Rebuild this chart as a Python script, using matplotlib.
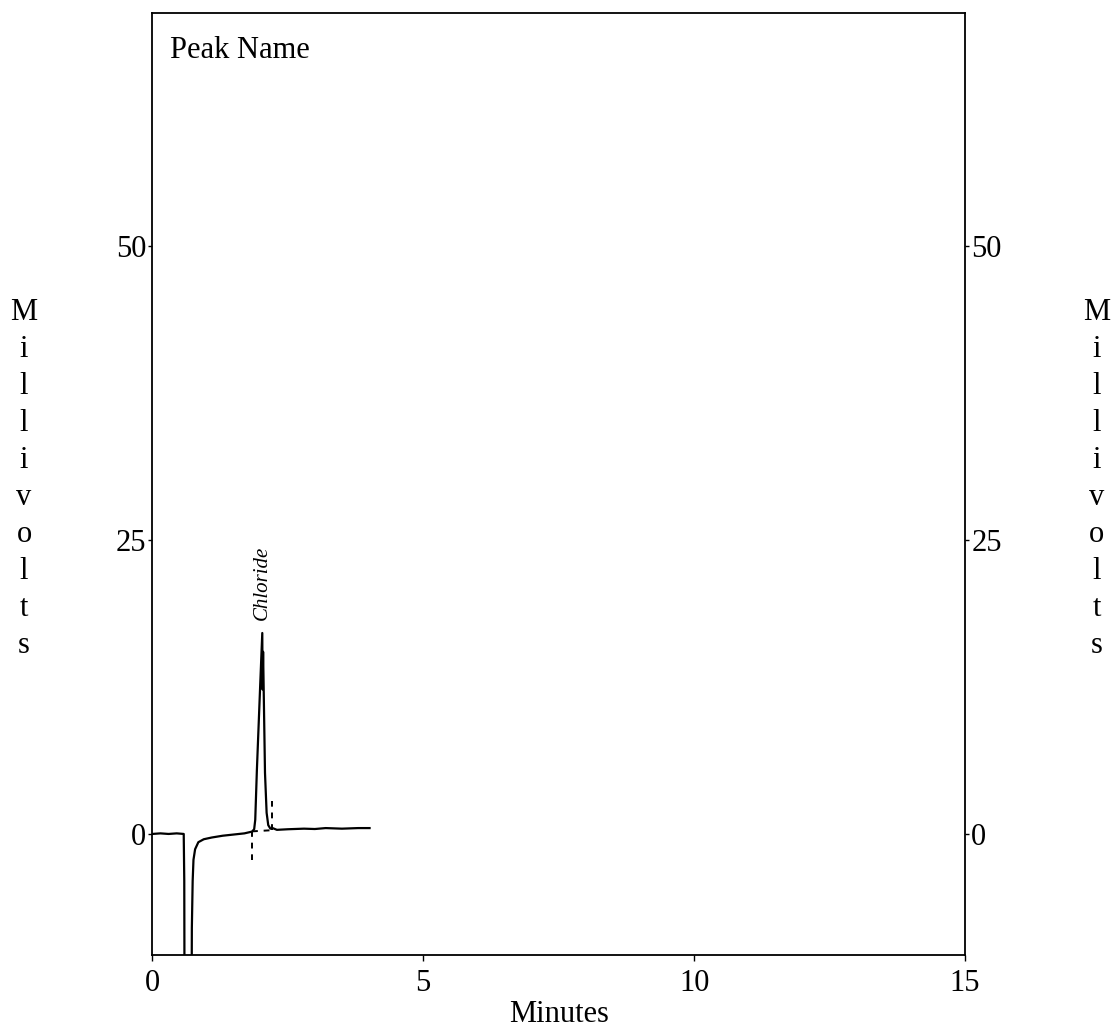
import matplotlib
matplotlib.use("Agg")
import matplotlib.pyplot as plt

plt.rcParams['font.family'] = ['Liberation Serif', 'DejaVu Serif']

# ---- data ----
time_min = [0.0, 0.15, 0.3, 0.45, 0.58, 0.59, 0.595, 0.725, 0.73, 0.745, 0.76,
            0.79, 0.85, 0.95, 1.1, 1.3, 1.5, 1.7, 1.84, 1.88, 1.90, 1.93, 1.99,
            2.03, 2.035, 2.045, 2.08, 2.11, 2.14, 2.18, 2.22, 2.3, 2.5, 2.8,
            3.0, 3.2, 3.5, 3.8, 4.01]
millivolts = [0.0, 0.05, 0.0, 0.05, 0.0, -4.0, -15.0, -15.0, -8.0, -4.0, -2.2,
              -1.3, -0.7, -0.45, -0.3, -0.15, -0.05, 0.05, 0.2, 0.4, 1.2, 5.4, 12.5,
              17.1, 12.3, 15.5, 5.2, 1.8, 0.75, 0.45, 0.5, 0.35, 0.4, 0.45,
              0.42, 0.5, 0.45, 0.5, 0.5]

peak_name = "Chloride"
peak_time = 2.03
peak_label_mv = 18.2

baseline_t = [1.84, 2.21]
baseline_mv = [0.22, 0.32]
start_mark_mv = [0.22, -2.2]
end_mark_mv = [0.32, 2.8]

x_ticks = [0, 5, 10, 15]
y_ticks = [0, 25, 50]
x_range = (0, 15)
y_range = (-10.3, 69.9)

W, H = 1112, 1028
fig = plt.figure(figsize=(W / 100, H / 100), dpi=100)
ax = fig.add_axes([152.3 / W, 1 - 955 / H, (965 - 152.3) / W, (955 - 12.5) / H])

ax.plot(time_min, millivolts, color='black', lw=1.6)
dash = (0, (3, 3))
ax.plot(baseline_t, baseline_mv, color='black', lw=1.4, ls=dash)
ax.plot([baseline_t[0]] * 2, start_mark_mv, color='black', lw=1.4, ls=dash)
ax.plot([baseline_t[1]] * 2, end_mark_mv, color='black', lw=1.4, ls=dash)

ax.text(peak_time, peak_label_mv, peak_name, rotation=90, ha='center', va='bottom',
        style='italic', fontsize=15)

ax.set_xlim(*x_range)
ax.set_ylim(*y_range)
ax.set_xticks(x_ticks)
ax.set_xticklabels([str(v) for v in x_ticks])
ax.set_yticks(y_ticks)
ax.set_yticklabels([str(v) for v in y_ticks])
ax.tick_params(axis='x', direction='out', length=4, width=1, pad=6, labelsize=22)
ax.tick_params(axis='y', direction='out', length=3, width=1, pad=1.5, labelsize=22,
               left=True, right=True, labelleft=True, labelright=True)
for s in ax.spines.values():
    s.set_linewidth(1.3)
    s.set_color('black')

fig.text(170 / W, 1 - 58 / H, "Peak Name", fontsize=22, ha='left', va='baseline')
fig.text(0.5 * (152.3 + 965) / W, 1 - 1022 / H, "Minutes", fontsize=22,
         ha='center', va='baseline')

word = "Millivolts"
for k, ch in enumerate(word):
    yb = 1 - (320 + 37 * k) / H
    fig.text(24 / W, yb, ch, fontsize=22, ha='center', va='baseline')
    fig.text(1097 / W, yb, ch, fontsize=22, ha='center', va='baseline')

fig.savefig("out.png", dpi=100)
